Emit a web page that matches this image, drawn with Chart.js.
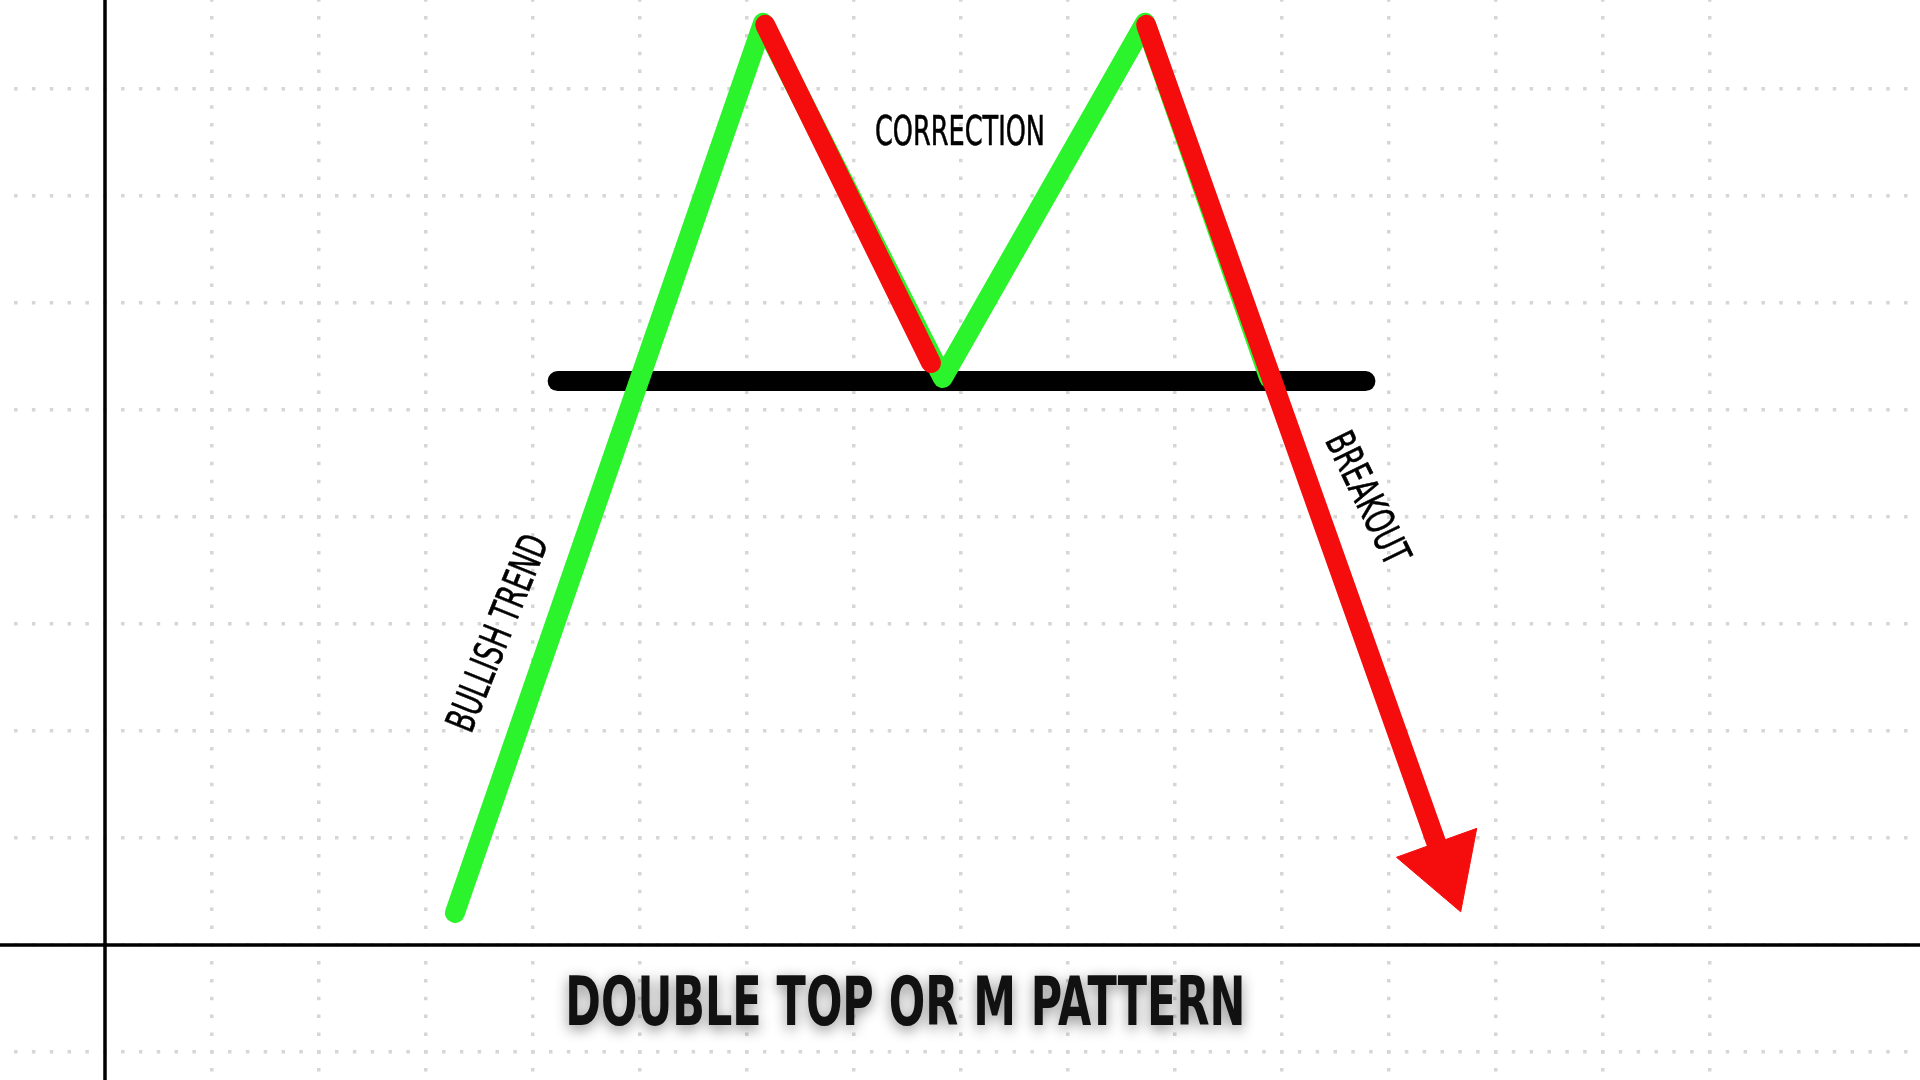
<!DOCTYPE html>
<html>
<head>
<meta charset="utf-8">
<title>Double Top or M Pattern</title>
<style>
  html, body { margin: 0; padding: 0; background: #fff; overflow: hidden; }
</style>
</head>
<body>
<canvas id="myChart" width="1920" height="1080"></canvas>
<script src="https://cdn.jsdelivr.net/npm/chart.js@4.4.1/dist/chart.umd.min.js"></script>
<script>
// values are in grid cells, origin where the two black axes cross
const priceX = [3.27, 6.15, 7.83, 9.72, 10.88];
const priceY = [0.30, 8.62, 5.30, 8.62, 5.30];

const correctionX = [6.17, 7.72];
const correctionY = [8.60, 5.44];

const breakoutX = [9.73, 12.44];
const breakoutY = [8.60, 0.96];

const arrowX = [12.67, 12.07, 12.82, 12.67];
const arrowY = [0.31, 0.82, 1.09, 0.31];

const necklineX = [4.23, 11.78];
const necklineY = [5.27, 5.27];

// text labels: [text, x, y, angle, cap height, width, bold]
const labels = [
  ["CORRECTION", 7.99, 7.62, 0, 30, 170, false],
  ["BULLISH TREND", 3.66, 2.92, -68, 29, 208, false],
  ["BREAKOUT", 11.81, 4.18, 64, 29, 142, false],
  ["DOUBLE TOP OR M PATTERN", 7.48, -0.52, 0, 49, 680, true],
];

const GREEN = "#2cf42c";
const RED = "#f50d0d";

const cxt = document.querySelector("#myChart");

function points(xs, ys) {
  return xs.map((x, i) => ({ x: x, y: ys[i] }));
}

function drawLabel(ctx, text, px, py, angle, capH, width, bold) {
  ctx.save();
  ctx.translate(px, py);
  ctx.rotate((angle * Math.PI) / 180);
  const size = capH / 0.72;
  ctx.font = (bold ? "bold " : "") + size + "px 'Liberation Sans Narrow', 'DejaVu Sans Condensed', 'Liberation Sans', sans-serif";
  const w = ctx.measureText(text).width;
  ctx.scale(width / w, 1);
  ctx.textAlign = "center";
  ctx.textBaseline = "alphabetic";
  if (bold) {
    ctx.shadowColor = "rgba(0,0,0,0.45)";
    ctx.shadowBlur = 14;
    ctx.shadowOffsetY = 4;
    ctx.fillStyle = "#111";
  } else {
    ctx.fillStyle = "#000";
    ctx.strokeStyle = "#000";
    ctx.lineWidth = 0.6;
    ctx.strokeText(text, 0, capH / 2);
  }
  ctx.fillText(text, 0, capH / 2);
  ctx.restore();
}

const overlay = {
  id: "overlay",
  beforeDatasetsDraw(chart) {
    const { ctx, width, height } = chart;
    const x0 = chart.scales.x.getPixelForValue(0);
    const y0 = chart.scales.y.getPixelForValue(0);
    ctx.save();
    ctx.strokeStyle = "#000";
    ctx.lineWidth = 3.5;
    ctx.beginPath();
    ctx.moveTo(x0, 0);
    ctx.lineTo(x0, height);
    ctx.moveTo(0, y0);
    ctx.lineTo(width, y0);
    ctx.stroke();
    ctx.restore();
  },
  afterDatasetsDraw(chart) {
    const { ctx } = chart;
    labels.forEach((l) => {
      const px = chart.scales.x.getPixelForValue(l[1]);
      const py = chart.scales.y.getPixelForValue(l[2]);
      drawLabel(ctx, l[0], px, py, l[3], l[4], l[5], l[6]);
    });
  },
};

const lineStyle = {
  showLine: true,
  borderWidth: 20,
  borderCapStyle: "round",
  borderJoinStyle: "round",
  pointRadius: 0,
  fill: false,
};

function keepWhole(scale) {
  scale.ticks = scale.ticks.filter((t) => Math.abs(t.value - Math.round(t.value)) < 1e-6);
}

const config = {
  type: "scatter",
  data: {
    datasets: [
      Object.assign({}, lineStyle, {
        label: "Neckline",
        data: points(necklineX, necklineY),
        borderColor: "#000",
        order: 4,
      }),
      Object.assign({}, lineStyle, {
        label: "Price",
        data: points(priceX, priceY),
        borderColor: GREEN,
        order: 3,
      }),
      Object.assign({}, lineStyle, {
        label: "Correction",
        data: points(correctionX, correctionY),
        borderColor: RED,
        order: 2,
      }),
      Object.assign({}, lineStyle, {
        label: "Breakout",
        data: points(breakoutX, breakoutY),
        borderColor: RED,
        order: 1,
      }),
      {
        label: "Arrow",
        data: points(arrowX, arrowY),
        showLine: true,
        borderWidth: 1,
        borderColor: RED,
        backgroundColor: RED,
        fill: "shape",
        pointRadius: 0,
        order: 0,
      },
    ],
  },
  options: {
    responsive: false,
    devicePixelRatio: 1,
    animation: false,
    layout: { padding: 0 },
    plugins: {
      legend: { display: false },
      tooltip: { enabled: false },
    },
    scales: {
      x: {
        type: "linear",
        min: -105 / 107,
        max: 1815 / 107,
        ticks: { display: false, stepSize: 1 },
        afterBuildTicks: keepWhole,
        grid: { color: "#d6d6d6", lineWidth: 3.5, drawTicks: false },
        border: { display: false, dash: [3.5, 14.33], dashOffset: 1.75 },
      },
      y: {
        type: "linear",
        min: -135 / 107,
        max: 945 / 107,
        ticks: { display: false, stepSize: 1 },
        afterBuildTicks: keepWhole,
        grid: { color: "#d6d6d6", lineWidth: 3.5, drawTicks: false },
        border: { display: false, dash: [3.5, 14.33], dashOffset: 3.75 },
      },
    },
  },
  plugins: [overlay],
};

new Chart(cxt, config);
</script>
</body>
</html>
